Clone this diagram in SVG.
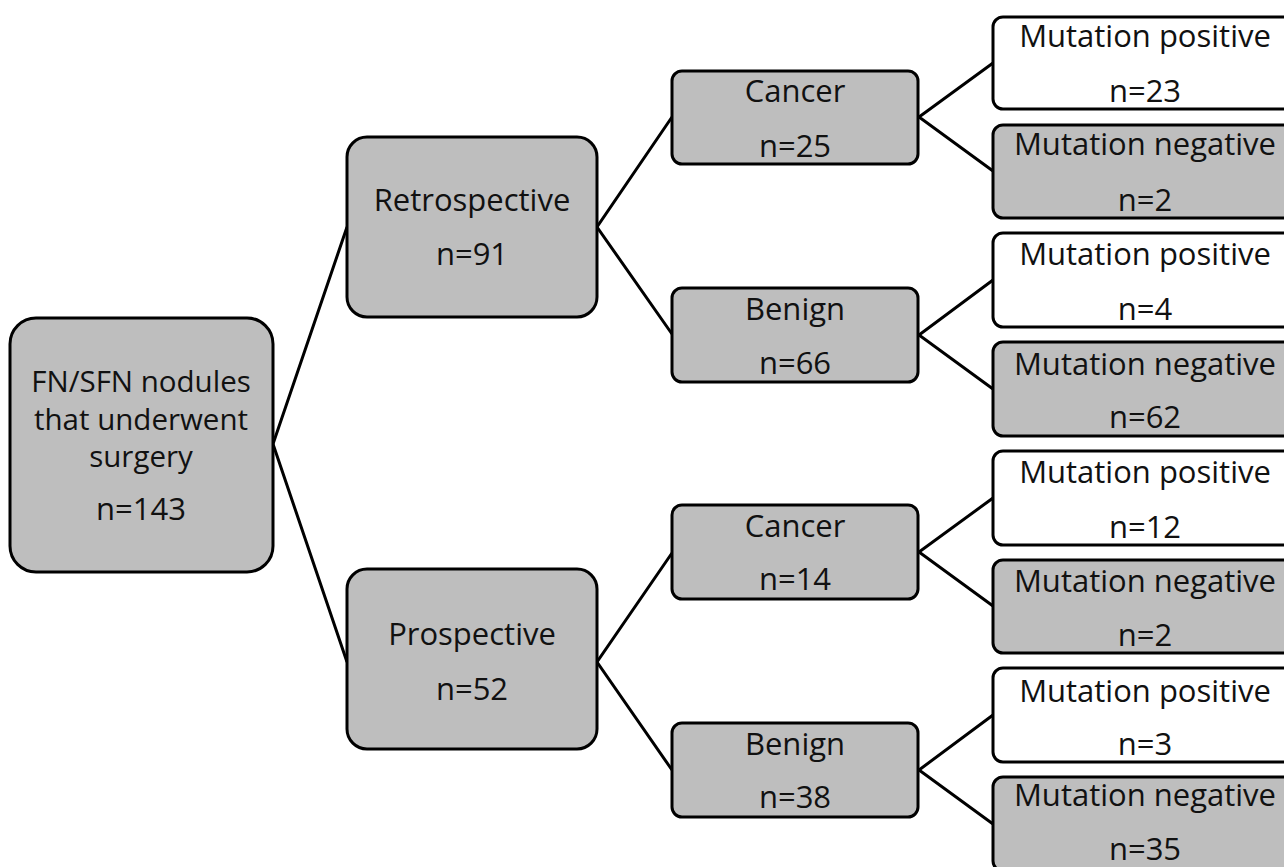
<svg xmlns="http://www.w3.org/2000/svg" width="1284" height="867" viewBox="0 0 1284 867">
<style>
.box{stroke:#000;stroke-width:3;}
.g{fill:#bebebe;}
.w{fill:#fff;}
text{font-family:"Open Sans","Liberation Sans",sans-serif;font-size:31px;fill:#111;text-anchor:middle;}
.rt{font-size:29.5px;}
.ln{stroke:#000;stroke-width:3;fill:none;}
</style>
<rect width="1284" height="867" fill="#fff"/>
<g id="connectors">
<polyline class="ln" points="347,227 273,444 347,662"/>
<polyline class="ln" points="672,117 597,227 672,334"/>
<polyline class="ln" points="672,553 597,662 672,770"/>
<polyline class="ln" points="993,63 919,117 993,171"/>
<polyline class="ln" points="993,280 919,335 993,389"/>
<polyline class="ln" points="993,498 919,552 993,606"/>
<polyline class="ln" points="993,715 919,770 993,824"/>
</g>
<g id="root">
<rect class="box g" x="10" y="318" width="263" height="254" rx="26"/>
<text class="rt" x="141" y="392">FN/SFN nodules</text>
<text class="rt" x="141" y="430">that underwent</text>
<text class="rt" x="141" y="467">surgery</text>
<text x="141" y="520">n=143</text>
</g>
<g id="retro">
<rect class="box g" x="347" y="137" width="250" height="180" rx="20"/>
<text x="472" y="211">Retrospective</text>
<text x="472" y="265">n=91</text>
</g>
<g id="pro">
<rect class="box g" x="347" y="569" width="250" height="180" rx="20"/>
<text x="472" y="645">Prospective</text>
<text x="472" y="700">n=52</text>
</g>
<g id="cancer1">
<rect class="box g" x="672" y="71" width="246" height="93" rx="10"/>
<text x="795" y="102">Cancer</text>
<text x="795" y="157">n=25</text>
</g>
<g id="benign1">
<rect class="box g" x="672" y="288" width="246" height="94" rx="10"/>
<text x="795" y="320">Benign</text>
<text x="795" y="374">n=66</text>
</g>
<g id="cancer2">
<rect class="box g" x="672" y="505" width="246" height="94" rx="10"/>
<text x="795" y="537">Cancer</text>
<text x="795" y="590">n=14</text>
</g>
<g id="benign2">
<rect class="box g" x="672" y="723" width="246" height="94" rx="10"/>
<text x="795" y="755">Benign</text>
<text x="795" y="808">n=38</text>
</g>
<g id="leaf1">
<rect class="box w" x="993" y="17" width="300" height="92" rx="10"/>
<text x="1145" y="47">Mutation positive</text>
<text x="1145" y="102">n=23</text>
</g>
<g id="leaf2">
<rect class="box g" x="993" y="125" width="300" height="93" rx="10"/>
<text x="1145" y="155">Mutation negative</text>
<text x="1145" y="211">n=2</text>
</g>
<g id="leaf3">
<rect class="box w" x="993" y="233" width="300" height="94" rx="10"/>
<text x="1145" y="265">Mutation positive</text>
<text x="1145" y="320">n=4</text>
</g>
<g id="leaf4">
<rect class="box g" x="993" y="342" width="300" height="94" rx="10"/>
<text x="1145" y="375">Mutation negative</text>
<text x="1145" y="428">n=62</text>
</g>
<g id="leaf5">
<rect class="box w" x="993" y="451" width="300" height="94" rx="10"/>
<text x="1145" y="483">Mutation positive</text>
<text x="1145" y="538">n=12</text>
</g>
<g id="leaf6">
<rect class="box g" x="993" y="560" width="300" height="93" rx="10"/>
<text x="1145" y="592">Mutation negative</text>
<text x="1145" y="646">n=2</text>
</g>
<g id="leaf7">
<rect class="box w" x="993" y="668" width="300" height="94" rx="10"/>
<text x="1145" y="702">Mutation positive</text>
<text x="1145" y="755">n=3</text>
</g>
<g id="leaf8">
<rect class="box g" x="993" y="777" width="300" height="94" rx="10"/>
<text x="1145" y="806">Mutation negative</text>
<text x="1145" y="860">n=35</text>
</g>
</svg>
